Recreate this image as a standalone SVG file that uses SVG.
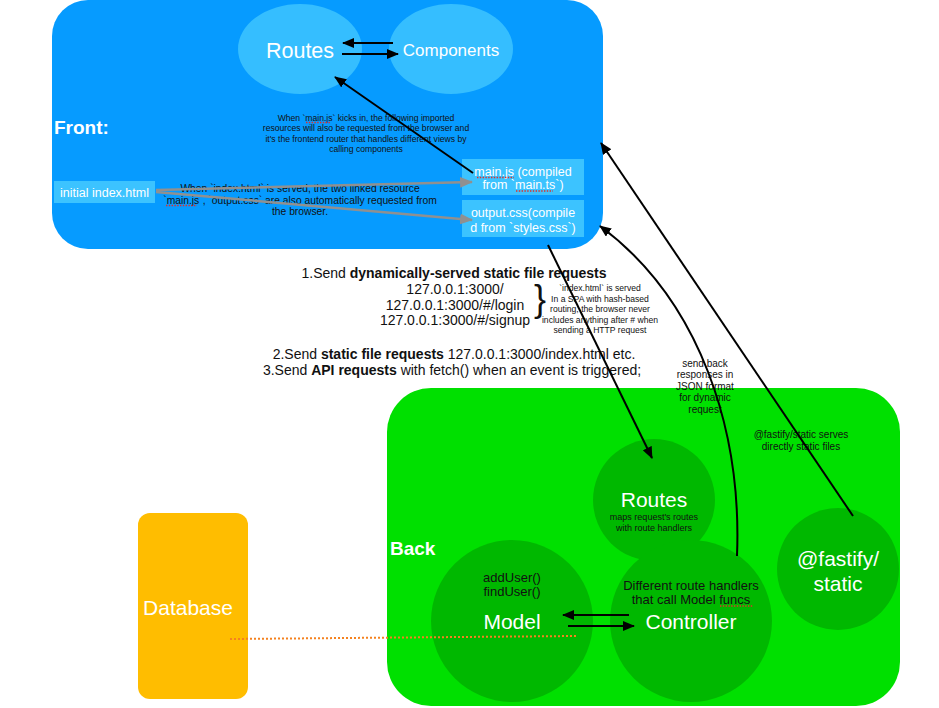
<svg xmlns="http://www.w3.org/2000/svg" width="939" height="708" viewBox="0 0 939 708">
<style>
text{font-family:"Liberation Sans",Arial,Helvetica,sans-serif;}
.w{fill:#fff;text-anchor:middle;}
.n{fill:#111;text-anchor:middle;}
.b{font-weight:bold;}
.ln{stroke:#000;stroke-width:2;fill:none;}
.gl{stroke:#909090;stroke-width:2.5;fill:none;}
.sq{stroke:#e0302a;stroke-width:1.4;stroke-dasharray:1.4 1.4;fill:none;}
</style>
<defs>
<marker id="ah" viewBox="0 0 12 10" refX="11" refY="5" markerWidth="12" markerHeight="10" orient="auto" markerUnits="userSpaceOnUse"><path d="M0,0 L12,5 L0,10 z" fill="#000"/></marker>
<marker id="ag" viewBox="0 0 12 10" refX="11" refY="5" markerWidth="13" markerHeight="11" orient="auto" markerUnits="userSpaceOnUse"><path d="M0,0 L12,5 L0,10 z" fill="#909090"/></marker>
</defs>
<rect width="939" height="708" fill="#fff"/>

<g id="front">
<rect x="52" y="0" width="551" height="249" rx="36" fill="#069BFF"/>
<text x="54" y="134" class="b" font-size="19" fill="#fff">Front:</text>
<text class="n" font-size="8.6"><tspan x="366" y="120.5">When `main.js` kicks in, the following imported</tspan><tspan x="366" y="131">resources will also be requested from the browser and</tspan><tspan x="366" y="141.5">it's the frontend router that handles different views by</tspan><tspan x="366" y="152">calling components</tspan></text>
<text class="n" font-size="10.3"><tspan x="300" y="192">When `index.html` is served, the two linked resource</tspan><tspan x="300" y="203.5">`main.js`, `output.css` are also automatically requested from</tspan><tspan x="300" y="215">the browser.</tspan></text>
</g>

<g id="front-routes">
<ellipse cx="300" cy="49" rx="62" ry="45" fill="#35BEFF"/>
<text x="300" y="57.5" class="w" font-size="21.5">Routes</text>
</g>
<g id="front-components">
<ellipse cx="451" cy="49" rx="62" ry="45" fill="#35BEFF"/>
<text x="451" y="55.5" class="w" font-size="17">Components</text>
</g>
<g id="index-html">
<rect x="54" y="181" width="101" height="22" fill="#3CC3FF"/>
<text x="104.5" y="196.5" class="w" font-size="12.5">initial index.html</text>
</g>
<g id="main-js">
<rect x="462" y="159" width="122" height="36" fill="#3CC3FF"/>
<text class="w" font-size="12.5"><tspan x="523" y="175.5">main.js (compiled</tspan><tspan x="523" y="189">from `main.ts`)</tspan></text>
</g>
<g id="output-css">
<rect x="462" y="200" width="122" height="37" fill="#3CC3FF"/>
<text class="w" font-size="12.5"><tspan x="523" y="216.5">output.css(compile</tspan><tspan x="523" y="231.5">d from `styles.css`)</tspan></text>
</g>

<g id="requests-text">
<text x="454" y="278" class="n" font-size="14">1.Send <tspan class="b">dynamically-served static file requests</tspan></text>
<text class="n" font-size="14"><tspan x="455" y="294">127.0.0.1:3000/</tspan><tspan x="455" y="309.5">127.0.0.1:3000/#/login</tspan><tspan x="455" y="325">127.0.0.1:3000/#/signup</tspan></text>
<text x="540" y="311" class="n" font-size="36">}</text>
<text class="n" font-size="8.6"><tspan x="600" y="291">`index.html` is served</tspan><tspan x="600" y="301.5">In a SPA with hash-based</tspan><tspan x="600" y="312">routing, the browser never</tspan><tspan x="600" y="322.5">includes anything after # when</tspan><tspan x="600" y="333">sending a HTTP request</tspan></text>
<text x="454" y="359" class="n" font-size="14">2.Send <tspan class="b">static file requests</tspan> 127.0.0.1:3000/index.html etc.</text>
<text x="452" y="375" class="n" font-size="14">3.Send <tspan class="b">API requests</tspan> with fetch() when an event is triggered;</text>
</g>

<g id="back">
<rect x="387" y="388" width="513" height="318" rx="44" fill="#00E000"/>
<text x="390" y="555" class="b" font-size="19" fill="#fff">Back</text>
<text class="n" font-size="10"><tspan x="705" y="366.5">send back</tspan><tspan x="705" y="378">responses in</tspan><tspan x="705" y="389.5">JSON format</tspan><tspan x="705" y="401">for dynamic</tspan><tspan x="705" y="412.5">request</tspan></text>
<text class="n" font-size="10"><tspan x="801" y="437.5">@fastify/static serves</tspan><tspan x="801" y="450">directly static files</tspan></text>
</g>

<g id="back-routes">
<circle cx="654" cy="500" r="61" fill="#00B800"/>
<text x="654" y="506.5" class="w" font-size="21">Routes</text>
<text class="n" font-size="9"><tspan x="654" y="519.5">maps request's routes</tspan><tspan x="654" y="530.5">with route handlers</tspan></text>
</g>
<g id="model">
<circle cx="512" cy="621" r="81" fill="#00B800"/>
<text class="n" font-size="13"><tspan x="512" y="581.5">addUser()</tspan><tspan x="512" y="595.5">findUser()</tspan></text>
<text x="512" y="628.5" class="w" font-size="21">Model</text>
</g>
<g id="controller">
<circle cx="691" cy="621" r="81" fill="#00B800"/>
<text class="n" font-size="13"><tspan x="691" y="589.5">Different route handlers</tspan><tspan x="691" y="604">that call Model funcs</tspan></text>
<text x="691" y="628.5" class="w" font-size="21">Controller</text>
</g>
<g id="fastify-static">
<circle cx="838" cy="569" r="61" fill="#00B800"/>
<text class="w" font-size="21"><tspan x="838" y="565.5">@fastify/</tspan><tspan x="838" y="591">static</tspan></text>
</g>
<g id="database">
<rect x="138" y="513" width="110" height="186" rx="12" fill="#FFBD00"/>
<text x="188" y="614.5" class="w" font-size="21">Database</text>
</g>

<g id="spellcheck">
<line class="sq" x1="306" y1="122.5" x2="331" y2="122.5"/>
<line class="sq" x1="166" y1="205.5" x2="197" y2="205.5"/>
<line class="sq" x1="477" y1="177.5" x2="514" y2="177.5"/>
<line class="sq" x1="516" y1="191" x2="553" y2="191"/>
<line class="sq" x1="720" y1="606" x2="753" y2="606"/>
</g>

<g id="connectors">
<line class="ln" x1="342" y1="54" x2="398" y2="54" marker-end="url(#ah)"/>
<line class="ln" x1="393" y1="43" x2="343" y2="43" marker-end="url(#ah)"/>
<line class="ln" x1="473" y1="173" x2="335" y2="77" marker-end="url(#ah)"/>
<line class="gl" x1="156" y1="190" x2="472" y2="182" marker-end="url(#ag)"/>
<line class="gl" x1="156" y1="192" x2="472" y2="220" marker-end="url(#ag)"/>
<line class="ln" x1="548" y1="245" x2="652" y2="458" marker-end="url(#ah)"/>
<path class="ln" d="M737,556 C742,430 700,300 600,226" marker-end="url(#ah)"/>
<line class="ln" x1="853" y1="516" x2="601" y2="143" marker-end="url(#ah)"/>
<line class="ln" x1="629" y1="615" x2="563" y2="615" marker-end="url(#ah)"/>
<line class="ln" x1="568" y1="626" x2="634" y2="626" marker-end="url(#ah)"/>
<line x1="230" y1="639" x2="576" y2="636" stroke="#F5821F" stroke-width="2" stroke-dasharray="2 2"/>
</g>
</svg>
